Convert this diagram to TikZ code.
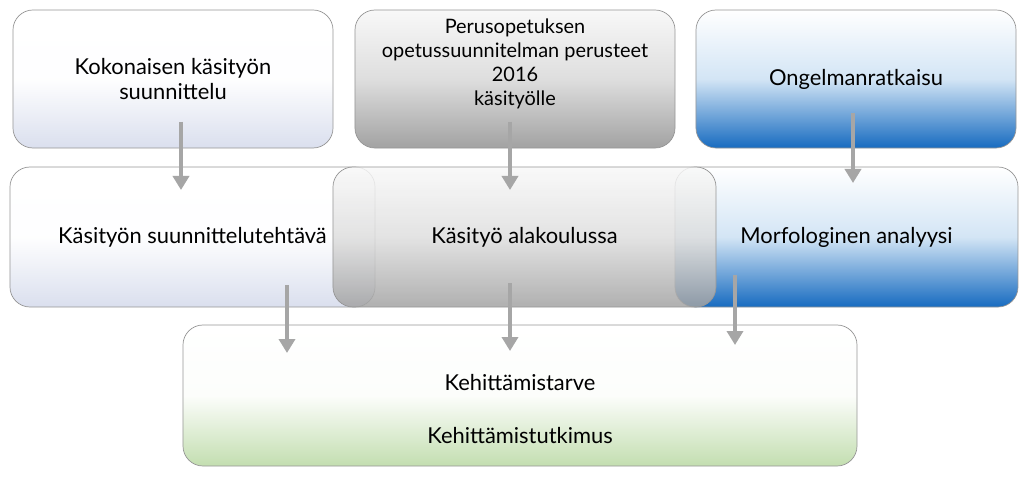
\documentclass[tikz,border=0pt]{standalone}
\usepackage{fontspec}
\setmainfont{Lato}
\usetikzlibrary{arrows.meta}
\definecolor{boxline}{HTML}{969696}
\definecolor{arrowgray}{HTML}{A6A6A6}
\definecolor{lavbot}{HTML}{DADFEE}
\definecolor{bluemid}{HTML}{D3E5F5}
\definecolor{bluebot}{HTML}{176BC0}
\definecolor{graytop}{HTML}{F8F8F8}
\definecolor{graymid}{HTML}{DEDEDE}
\definecolor{graybot}{HTML}{A2A2A2}
\definecolor{greenbot}{HTML}{C3DEB0}

\begin{document}
\begin{tikzpicture}[x=0.03cm, y=-0.03cm, every node/.style={font=\fontsize{18.7}{21.3}\selectfont, align=center}, >={Triangle[width=4.8mm, length=4.2mm]},
	box/.style={draw=boxline, line width=0.6pt, rounded corners=0.6cm, inner sep=0pt},
	lavbox/.style={box, top color=white, bottom color=lavbot, middle color=white!97!lavbot},
	bluebox/.style={box, top color=white, bottom color=bluebot, middle color=bluemid},
	graybox/.style={box, top color=graytop, bottom color=graybot, middle color=graymid},
	greenbox/.style={box, top color=white, bottom color=greenbot, middle color=white!95!greenbot},
	arr/.style={->, draw=arrowgray, line width=1.4mm}]
	\useasboundingbox (0,0) rectangle (1024,479);
	% top row
	\node[lavbox, minimum width=9.6cm, minimum height=4.14cm] (kok) at (173,79) {Kokonaisen käsityön\\suunnittelu};
	\node[graybox, minimum width=9.6cm, minimum height=4.14cm] (ops) at (515,79) {};
	\node[font=\fontsize{17}{20.5}\selectfont] (opstxt) at (515,64) {Perusopetuksen\\opetussuunnitelman perusteet\\2016\\käsityölle};
	\node[bluebox, minimum width=9.6cm, minimum height=4.14cm] (ong) at (856,79) {Ongelmanratkaisu};
	% middle row
	\node[lavbox, minimum width=10.95cm, minimum height=4.2cm] (sut) at (192.5,237) {Käsityön suunnittelutehtävä};
	\node[bluebox, minimum width=10.29cm, minimum height=4.2cm] (mor) at (846.5,237) {Morfologinen analyysi};
	\node[graybox, fill opacity=0.85, text opacity=1, minimum width=11.49cm, minimum height=4.2cm] (ala) at (524.5,237) {Käsityö alakoulussa};
	% bottom
	\node[greenbox, minimum width=20.22cm, minimum height=4.23cm] (keh) at (520,395.5) {};
	\node (kehtxt) at (520,409) {Kehittämistarve\\[0.85cm]Kehittämistutkimus};
	% arrows
	\coordinate (k1) at (181,122); \coordinate (s1) at (181,190);
	\coordinate (o1) at (510,122); \coordinate (a1) at (510,190);
	\coordinate (n1) at (853,113); \coordinate (m1) at (853,183);
	\coordinate (s2) at (287,285); \coordinate (e1) at (287,353);
	\coordinate (a2) at (510,283); \coordinate (e2) at (510,351);
	\coordinate (m2) at (735,275); \coordinate (e3) at (735,345);
	\draw[arr] (k1) -- (s1);
	\draw[arr] (o1) -- (a1);
	\draw[arr] (n1) -- (m1);
	\draw[arr] (s2) -- (e1);
	\draw[arr] (a2) -- (e2);
	\draw[arr] (m2) -- (e3);
\end{tikzpicture}
\end{document}
